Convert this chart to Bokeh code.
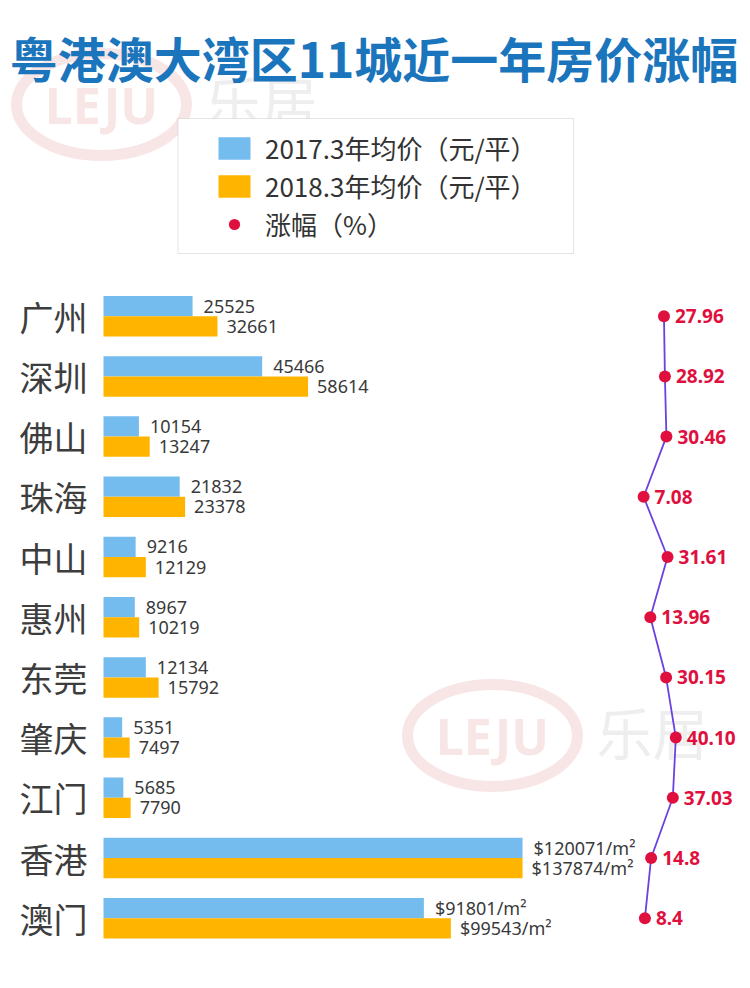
from bokeh.plotting import figure
from bokeh.models import Range1d, ColumnDataSource, Legend, LegendItem, BoxAnnotation
from bokeh.transform import dodge
from bokeh.core.properties import value
from bokeh.embed import file_html
from bokeh.resources import INLINE

# ---------------- data ----------------
title_text = "粤港澳大湾区11城近一年房价涨幅"
cities = ["广州", "深圳", "佛山", "珠海", "中山", "惠州", "东莞", "肇庆", "江门", "香港", "澳门"]
price_2017 = [25525, 45466, 10154, 21832, 9216, 8967, 12134, 5351, 5685, 120071, 91801]
price_2018 = [32661, 58614, 13247, 23378, 12129, 10219, 15792, 7497, 7790, 137874, 99543]
growth_pct = [27.96, 28.92, 30.46, 7.08, 31.61, 13.96, 30.15, 40.10, 37.03, 14.8, 8.4]
growth_labels = ["27.96", "28.92", "30.46", "7.08", "31.61", "13.96", "30.15", "40.10", "37.03", "14.8", "8.4"]
per_m2_cities = ["香港", "澳门"]
legend_labels = ["2017.3年均价（元/平）", "2018.3年均价（元/平）", "涨幅（%）"]
watermark_latin = "LEJU"
watermark_cjk = "乐居"

# In the original picture Hong Kong's 2018 bar is drawn no longer than its 2017 bar
bar_2018 = [price_2017[i] if c == "香港" else v for i, (c, v) in enumerate(zip(cities, price_2018))]


def fmt(city, v):
    return f"${v}/m²" if city in per_m2_cities else str(v)


lab17 = [fmt(c, v) for c, v in zip(cities, price_2017)]
lab18 = [fmt(c, v) for c, v in zip(cities, price_2018)]

# ---------------- style ----------------
W, H = 750, 988
BLUE = "#75bcee"
ORANGE = "#ffb400"
RED = "#e0103e"
PURPLE = "#6a42e0"
TITLE_BLUE = "#1b75bc"
TXT = "#3a3a3a"

src = ColumnDataSource(dict(
    city=cities, row=list(range(len(cities))),
    p17=price_2017, p18=price_2018, p18bar=bar_2018,
    lab17=lab17, lab18=lab18, pct=growth_pct, pct_lab=growth_labels,
))

p = figure(width=W, height=H, x_range=Range1d(0, W), y_range=Range1d(H, 0),
           output_backend="svg", toolbar_location=None, min_border=0,
           x_axis_type=None, y_axis_type=None, outline_line_color=None,
           background_fill_color="white", border_fill_color="white")
p.grid.visible = False

px_per_unit = 0.00349
bar_origin = 103
p.extra_x_ranges = {
    "price": Range1d(-bar_origin / px_per_unit, (W - bar_origin) / px_per_unit),
    "pct": Range1d(-652.5, 116.7),
}
row0, pitch = 315.7, 60.2
p.extra_y_ranges = {"row": Range1d((H - row0) / pitch, -row0 / pitch)}

# ---------------- watermarks ----------------
for (ex, ey) in [(101, 104), (492, 735)]:
    p.ellipse(x=[ex], y=[ey], width=170, height=102, fill_color=None,
              line_color="#f6dede", line_width=11, line_alpha=0.8)
    p.text(x=[ex], y=[ey], text=[watermark_latin], text_align="center", text_baseline="middle",
           text_font=value("Noto Sans"), text_font_style="bold", text_font_size="50px",
           text_color="#f6dcdc", text_alpha=0.75)
    p.text(x=[ex + 160], y=[ey - 5], text=[watermark_cjk], text_align="center", text_baseline="middle",
           text_font=value("Noto Sans CJK SC"), text_font_size="56px",
           text_color="#eeeeee")

# ---------------- title ----------------
p.text(x=[373.5], y=[56], text=[title_text], text_align="center", text_baseline="middle",
       text_font=value("Noto Sans CJK SC"), text_font_style="bold", text_font_size="48px",
       text_color=TITLE_BLUE)

# ---------------- bars ----------------
hh = 0.168
r17 = p.hbar(y=dodge("row", -hh), left=0, right="p17", height=2 * hh, source=src,
             fill_color=BLUE, line_color=None, x_range_name="price", y_range_name="row")
r18 = p.hbar(y=dodge("row", hh), left=0, right="p18bar", height=2 * hh, source=src,
             fill_color=ORANGE, line_color=None, x_range_name="price", y_range_name="row")

p.text(x="p17", y=dodge("row", -hh), text="lab17", source=src, x_offset=11,
       text_align="left", text_baseline="middle", text_font=value("Noto Sans"),
       text_font_size="18px", text_color=TXT, x_range_name="price", y_range_name="row")
p.text(x="p18bar", y=dodge("row", hh), text="lab18", source=src, x_offset=9,
       text_align="left", text_baseline="middle", text_font=value("Noto Sans"),
       text_font_size="18px", text_color=TXT, x_range_name="price", y_range_name="row")

# city names
p.text(x=19, y="row", text="city", source=src, text_align="left", text_baseline="middle",
       text_font=value("Noto Sans CJK SC"), text_font_size="34px", text_color="#3d3d3d",
       y_range_name="row")

# ---------------- growth line ----------------
p.line(x="pct", y="row", source=src, line_color=PURPLE, line_width=1.8,
       x_range_name="pct", y_range_name="row")
rdot = p.scatter(x="pct", y="row", source=src, size=12, fill_color=RED, line_color=None,
                 x_range_name="pct", y_range_name="row")
p.text(x="pct", y="row", text="pct_lab", source=src, x_offset=11, text_align="left",
       text_baseline="middle", text_font=value("Noto Sans"), text_font_style="bold",
       text_font_size="19px", text_color=RED, x_range_name="pct", y_range_name="row")

# ---------------- legend ----------------
box = BoxAnnotation(left=177.5, right=573, top=118, bottom=253, fill_color="white",
                    fill_alpha=1, line_color="#a6a6a6", line_width=1)
p.add_layout(box)
legend = Legend(items=[LegendItem(label=legend_labels[0], renderers=[r17]),
                       LegendItem(label=legend_labels[1], renderers=[r18]),
                       LegendItem(label=legend_labels[2], renderers=[rdot])],
                location=(214, 746), orientation="vertical",
                glyph_width=40, glyph_height=28, label_height=28, label_standoff=11,
                spacing=1, padding=0, margin=0,
                border_line_color=None, background_fill_alpha=0,
                label_text_font="Noto Sans CJK SC", label_text_font_size="26px",
                label_text_color="#333333")
p.add_layout(legend)

open("out.html", "w").write(file_html(p, INLINE))
